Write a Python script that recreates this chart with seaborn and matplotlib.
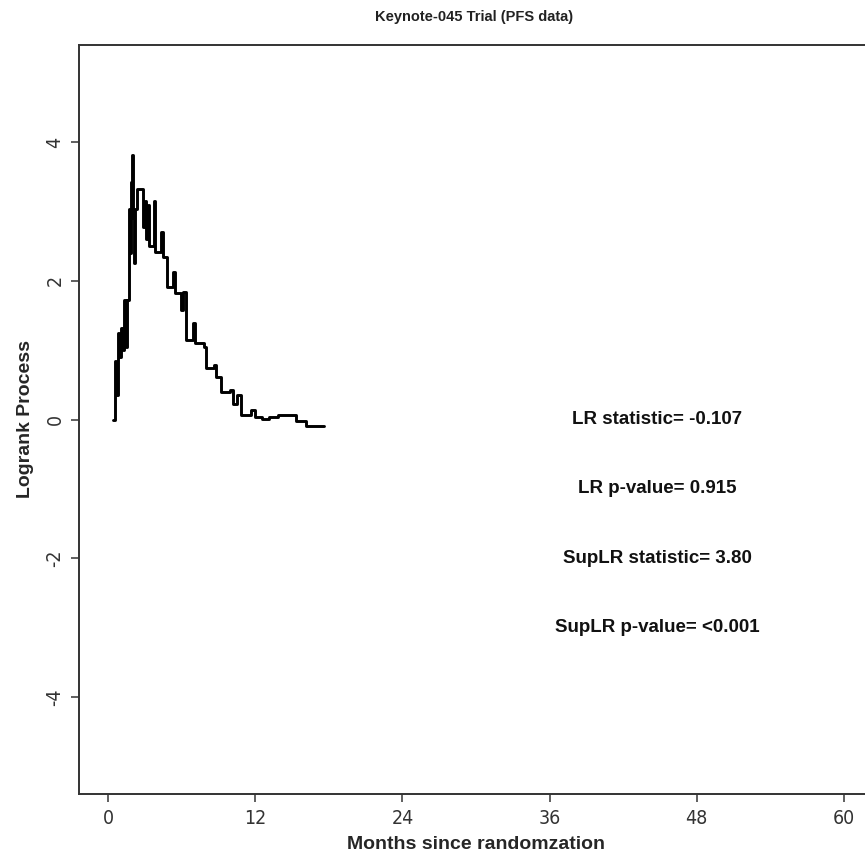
import matplotlib
matplotlib.use("Agg")
import matplotlib.pyplot as plt
import seaborn as sns
import pandas as pd

# logrank process (step function)
months = [0.4, 0.5, 0.6, 0.75, 0.9, 1.06, 1.2, 1.3, 1.4, 1.5, 1.7, 1.75, 1.85,
          1.95, 2.03, 2.1, 2.2, 2.35, 2.8, 2.95, 3.1, 3.2, 3.35, 3.7, 3.8, 4.3,
          4.45, 4.8, 5.3, 5.45, 5.95, 6.1, 6.35, 6.9, 7.1, 7.8, 8.0, 8.6, 8.8,
          9.2, 9.9, 10.2, 10.5, 10.85, 11.65, 12.0, 12.5, 13.1, 13.85, 15.3,
          16.1, 17.6]
logrank = [0.0, 0.85, 0.35, 1.25, 0.9, 1.32, 1.0, 1.72, 1.05, 1.72, 3.03, 2.4,
           3.43, 3.81, 2.9, 2.26, 3.03, 3.32, 2.78, 3.15, 2.6, 3.1, 2.5, 3.15,
           2.42, 2.7, 2.35, 1.91, 2.12, 1.83, 1.58, 1.84, 1.15, 1.39, 1.1, 1.05,
           0.74, 0.78, 0.61, 0.39, 0.43, 0.23, 0.35, 0.06, 0.13, 0.03, 0.01,
           0.04, 0.07, -0.02, -0.09, -0.09]

x_ticks = [0, 12, 24, 36, 48, 60]
y_ticks = [-4, -2, 0, 2, 4]

stat_labels = ["LR statistic= -0.107", "LR p-value= 0.915",
               "SupLR statistic= 3.80", "SupLR p-value= <0.001"]
stat_y = [0, -1, -2, -3]

sns.set_style("ticks")
plt.rcParams["font.family"] = ["Liberation Sans", "DejaVu Sans"]

df = pd.DataFrame({"month": months, "lr": logrank})

fig = plt.figure(figsize=(8.65, 8.56), dpi=100)
ax = fig.add_axes([79 / 865, 1 - 794 / 856, 794 / 865, 749 / 856])

sns.lineplot(data=df, x="month", y="lr", ax=ax, color="black", linewidth=2.1,
             drawstyle="steps-post", estimator=None, sort=False)

ax.set_xlim(-2.4, 62.4)
ax.set_ylim(-5.4, 5.4)
ax.set_xticks(x_ticks)
ax.set_yticks(y_ticks)
tick_kw = dict(fontsize=14, family="DejaVu Sans", fontstretch="condensed",
               color="#333333")
ax.set_xticklabels([str(t) for t in x_ticks], **tick_kw)
ax.set_yticklabels([str(t) for t in y_ticks], rotation=90, va="center", **tick_kw)
ax.tick_params(axis="both", direction="out", length=5.5, width=1.2,
               color="#444444", pad=5)

for s in ax.spines.values():
    s.set_linewidth(1.4)
    s.set_color("#333333")

ax.set_xlabel("Months since randomzation", fontsize=14, fontweight="bold",
              labelpad=6)
ax.set_ylabel("Logrank Process", fontsize=14, fontweight="bold", labelpad=8)
fig.text(474 / 865, 1 - 17 / 856, "Keynote-045 Trial (PFS data)", fontsize=10.5,
         fontweight="bold", ha="center", va="center", color="#222222")

for lab, yv in zip(stat_labels, stat_y):
    ax.text(44.8, yv, lab, fontsize=13.5, fontweight="bold", ha="center",
            va="center", color="#111111")

fig.savefig("out.png", dpi=100)
